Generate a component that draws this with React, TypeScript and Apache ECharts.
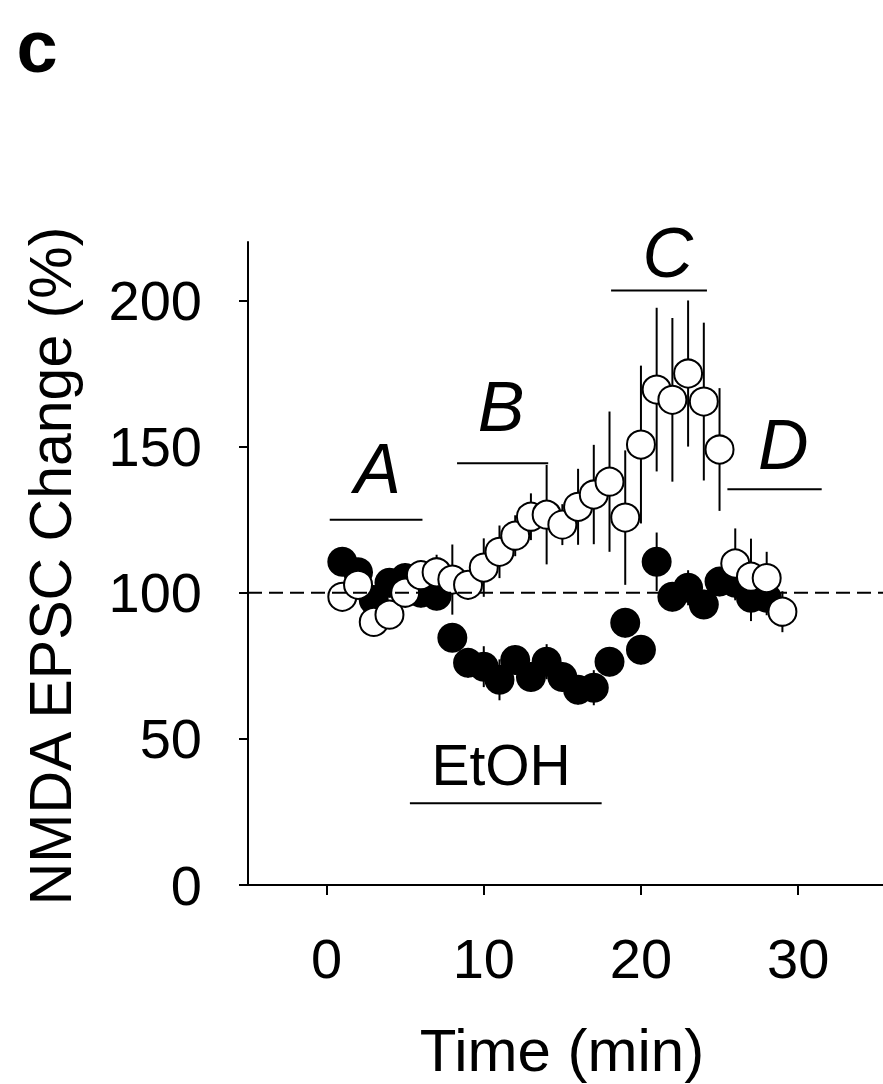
import React, { useEffect, useRef } from "react";
import * as echarts from "echarts";

const FONT = "'Liberation Sans', Arial, Helvetica, sans-serif";

// Axis ticks / labels
const xTicks = [0, 10, 20, 30];
const yTicks = [0, 50, 100, 150, 200];

// Open circles (with error bars)
const openMinutes = [1, 2, 3, 4, 5, 6, 7, 8, 9, 10, 11, 12, 13, 14, 15, 16, 17, 18, 19, 20, 21, 22, 23, 24, 25, 26, 27, 28, 29];
const openMean = [98.6, 102.7, 90, 92.5, 100, 106, 107, 104.5, 102.7, 108.6, 114, 119.5, 126, 126.7, 123.3, 129.4, 133.6, 138, 125.7, 150.7, 169.5, 166, 175, 165.4, 149, 110, 105.5, 105, 93.5];
const openErr = [3, 3, 4, 4, 4, 5, 6, 12, 5, 10, 9, 7, 8, 17, 7, 13, 17, 24, 23, 27, 28, 28, 25, 27, 21, 12, 13, 9, 7];

// Filled circles
const filledMinutes = [1, 2, 3, 4, 5, 6, 7, 8, 9, 10, 11, 12, 13, 14, 15, 16, 17, 18, 19, 20, 21, 22, 23, 24, 25, 26, 27, 28];
const filledMean = [110.6, 107, 97.5, 103.4, 105, 100, 99, 84.6, 76, 74.7, 70.2, 77, 71.2, 76.4, 71.2, 66.8, 67.5, 76.4, 89.7, 80.5, 110.6, 98.6, 101.7, 96, 103.8, 103.4, 98.3, 98.3];
const filledErr = [4, 4, 5, 5, 5, 5, 5, 4, 5, 7, 7, 5, 5, 6, 5, 5, 6, 5, 5, 5, 10, 5, 6, 5, 5, 6, 8, 6];

// Baseline (100 %)
const baseline = 100;

// Period annotations A-D
const periodNames = ["A", "B", "C", "D"];
const periodStart = [0.2, 8.3, 18.1, 25.5];
const periodEnd = [6.1, 14.1, 24.2, 31.5];
const periodLevel = [125, 144.3, 203.4, 135.4];
const periodLabelX = [3.25, 11.1, 21.7, 29.05];
const periodLabelY = [142.2, 163.4, 216.4, 150.4];

// Drug application bar
const drugName = "EtOH";
const drugStart = 5.3;
const drugEnd = 17.5;
const drugLevel = 28;
const drugLabelX = 11.1;
const drugLabelY = 41;

const X_MIN = -5;
const X_MAX = 35.4;
const Y_MIN = 0;
const Y_MAX = 220;

function errData(xs: number[], m: number[], e: number[]) {
  return xs.map((x, i) => [x, m[i] - e[i], m[i] + e[i]]);
}

function errRender(params: any, api: any) {
  const x = api.value(0);
  const p1 = api.coord([x, api.value(1)]);
  const p2 = api.coord([x, api.value(2)]);
  return {
    type: "line",
    shape: { x1: p1[0], y1: p1[1], x2: p2[0], y2: p2[1] },
    style: { stroke: "#000", lineWidth: 2 },
  };
}

function segRender(params: any, api: any) {
  const p1 = api.coord([api.value(0), api.value(2)]);
  const p2 = api.coord([api.value(1), api.value(2)]);
  return {
    type: "line",
    shape: { x1: p1[0], y1: p1[1], x2: p2[0], y2: p2[1] },
    style: { stroke: "#000", lineWidth: 2 },
  };
}

function makeTextRender(texts: string[], italic: boolean, size: number) {
  return (params: any, api: any) => {
    const p = api.coord([api.value(0), api.value(1)]);
    return {
      type: "text",
      x: p[0],
      y: p[1],
      style: {
        text: texts[api.value(2)],
        fill: "#000",
        fontSize: size,
        fontFamily: FONT,
        fontStyle: italic ? "italic" : "normal",
        align: "center",
        verticalAlign: "middle",
        textAlign: "center",
        textVerticalAlign: "middle",
      },
    };
  };
}

export default function App() {
  const ref = useRef<HTMLDivElement>(null);
  useEffect(() => {
    const chart = echarts.init(ref.current!, null, { renderer: "svg" });
    const option: any = {
      animation: false,
      backgroundColor: "#fff",
      grid: { left: 248, right: 0, top: 242, bottom: 199, containLabel: false },
      xAxis: {
        type: "value",
        min: X_MIN,
        max: X_MAX,
        axisLine: { show: true, onZero: false, lineStyle: { color: "#000", width: 2 } },
        axisTick: { show: true, inside: false, length: 10, customValues: xTicks, lineStyle: { color: "#000", width: 2 } },
        axisLabel: { customValues: xTicks, margin: 45, fontSize: 56, fontFamily: FONT, color: "#000" },
        splitLine: { show: false },
      },
      yAxis: {
        type: "value",
        min: Y_MIN,
        max: Y_MAX,
        axisLine: { show: true, onZero: false, lineStyle: { color: "#000", width: 2 } },
        axisTick: { show: true, inside: false, length: 9, customValues: yTicks, lineStyle: { color: "#000", width: 2 } },
        axisLabel: { customValues: yTicks, margin: 46, fontSize: 56, fontFamily: FONT, color: "#000" },
        splitLine: { show: false },
      },
      graphic: [
        {
          type: "text",
          x: 37,
          y: 46,
          style: { text: "c", fontSize: 74, fontWeight: "bold", fontFamily: FONT, fill: "#000", textAlign: "center", textVerticalAlign: "middle", align: "center", verticalAlign: "middle" },
        },
        {
          type: "text",
          x: 51,
          y: 566,
          rotation: Math.PI / 2,
          style: { text: "NMDA EPSC Change (%)", fontSize: 59, fontFamily: FONT, fill: "#000", textAlign: "center", textVerticalAlign: "middle", align: "center", verticalAlign: "middle" },
        },
        {
          type: "text",
          x: 562,
          y: 1050,
          style: { text: "Time (min)", fontSize: 60, fontFamily: FONT, fill: "#000", textAlign: "center", textVerticalAlign: "middle", align: "center", verticalAlign: "middle" },
        },
      ],
      series: [
        {
          type: "custom",
          name: "filledErr",
          z: 2,
          renderItem: errRender,
          encode: { x: 0, y: [1, 2] },
          data: errData(filledMinutes, filledMean, filledErr),
        },
        {
          type: "scatter",
          name: "filled",
          z: 3,
          symbol: "circle",
          symbolSize: 30,
          itemStyle: { color: "#000", opacity: 1 },
          data: filledMinutes.map((x, i) => [x, filledMean[i]]),
        },
        {
          type: "custom",
          name: "openErr",
          z: 4,
          renderItem: errRender,
          encode: { x: 0, y: [1, 2] },
          data: errData(openMinutes, openMean, openErr),
        },
        {
          type: "scatter",
          name: "open",
          z: 5,
          symbol: "circle",
          symbolSize: 28,
          itemStyle: { color: "#fff", borderColor: "#000", borderWidth: 2, opacity: 1 },
          data: openMinutes.map((x, i) => [x, openMean[i]]),
        },
        {
          type: "line",
          name: "baseline",
          z: 6,
          showSymbol: false,
          symbol: "none",
          lineStyle: { color: "#000", width: 2, type: [14, 7] },
          data: [
            [X_MIN, baseline],
            [X_MAX, baseline],
          ],
        },
        {
          type: "custom",
          name: "periods",
          z: 7,
          clip: false,
          renderItem: segRender,
          encode: { x: [0, 1], y: 2 },
          data: periodNames.map((_, i) => [periodStart[i], periodEnd[i], periodLevel[i]]),
        },
        {
          type: "custom",
          name: "periodLabels",
          z: 7,
          clip: false,
          renderItem: makeTextRender(periodNames, true, 70),
          encode: { x: 0, y: 1 },
          data: periodNames.map((_, i) => [periodLabelX[i], periodLabelY[i], i]),
        },
        {
          type: "custom",
          name: "drug",
          z: 7,
          clip: false,
          renderItem: segRender,
          encode: { x: [0, 1], y: 2 },
          data: [[drugStart, drugEnd, drugLevel]],
        },
        {
          type: "custom",
          name: "drugLabel",
          z: 7,
          clip: false,
          renderItem: makeTextRender([drugName], false, 57),
          encode: { x: 0, y: 1 },
          data: [[drugLabelX, drugLabelY, 0]],
        },
      ],
    };
    chart.setOption(option);
    return () => chart.dispose();
  }, []);
  return (
    <div
      ref={ref}
      style={{ position: "fixed", left: 0, top: 0, width: 883, height: 1084, background: "#fff" }}
    />
  );
}
